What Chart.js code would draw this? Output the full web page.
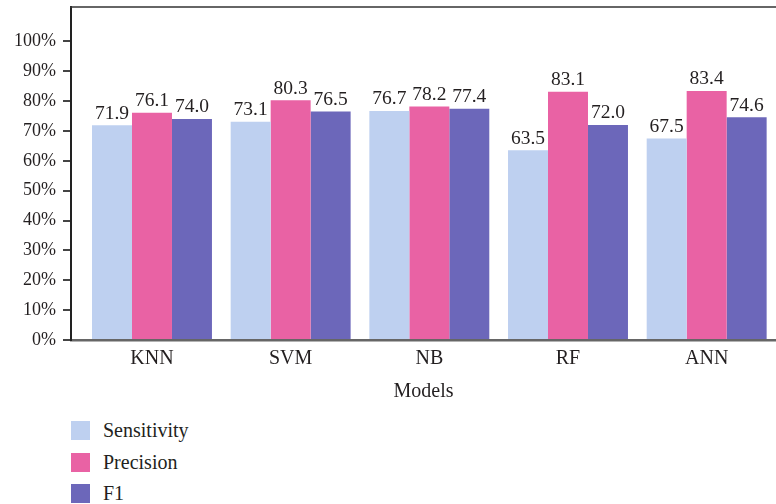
<!DOCTYPE html>
<html>
<head>
<meta charset="utf-8">
<script src="https://cdn.jsdelivr.net/npm/chart.js@4/dist/chart.umd.min.js"></script>
<style>
  html, body { margin: 0; padding: 0; background: #fff; }
  #wrap { position: relative; width: 776px; height: 504px; overflow: hidden; }
  #chart { position: absolute; left: 0; top: 0; }
  #legend { position: absolute; left: 71px; top: 421px; font-family: "Liberation Serif", serif; font-size: 20px; color: #231f20; }
  .item { display: flex; align-items: center; height: 19px; margin-bottom: 12.7px; }
  .box { width: 19px; height: 19px; margin-right: 13px; flex: none; }
</style>
</head>
<body>
<div id="wrap">
  <canvas id="chart" width="776" height="409"></canvas>
  <div id="legend"></div>
</div>
<script>
// Model comparison: sensitivity, precision and F1 (%)
const models = ["KNN", "SVM", "NB", "RF", "ANN"];
const sensitivity = [71.9, 73.1, 76.7, 63.5, 67.5];
const precision = [76.1, 80.3, 78.2, 83.1, 83.4];
const f1 = [74.0, 76.5, 77.4, 72.0, 74.6];
const seriesNames = ["Sensitivity", "Precision", "F1"];
const seriesColors = ["#BED0F0", "#E962A4", "#6C67BA"];
const yTicks = [0, 10, 20, 30, 40, 50, 60, 70, 80, 90, 100];

const serif = "'Liberation Serif', 'Times New Roman', serif";
const textColor = "#231f20";

const toPoints = arr => arr.map((v, i) => ({ x: i, y: v }));
const seriesValues = [sensitivity, precision, f1];

// Value labels above each bar
const valueLabels = {
  id: "valueLabels",
  afterDatasetsDraw(chart) {
    const ctx = chart.ctx;
    ctx.save();
    ctx.font = "19.5px " + serif;
    ctx.fillStyle = textColor;
    ctx.textAlign = "center";
    ctx.textBaseline = "bottom";
    chart.data.datasets.forEach((ds, di) => {
      chart.getDatasetMeta(di).data.forEach((el, i) => {
        ctx.fillText(ds.data[i].y.toFixed(1), el.x, el.y - 2);
      });
    });
    ctx.restore();
  }
};

// Top edge of the plot frame
const topFrame = {
  id: "topFrame",
  afterDraw(chart) {
    const a = chart.chartArea, ctx = chart.ctx;
    ctx.save();
    ctx.strokeStyle = "#333";
    ctx.lineWidth = 1.5;
    ctx.beginPath();
    ctx.moveTo(a.left - 1, a.top);
    ctx.lineTo(a.right, a.top);
    ctx.stroke();
    ctx.restore();
  }
};

new Chart(document.getElementById("chart"), {
  type: "bar",
  data: {
    datasets: seriesNames.map((name, k) => ({
      label: name,
      data: toPoints(seriesValues[k]),
      backgroundColor: seriesColors[k],
      borderWidth: 0,
      categoryPercentage: 0.865,
      barPercentage: 1.0
    }))
  },
  options: {
    responsive: false,
    animation: false,
    layout: { padding: { top: 7, right: 0, bottom: 5, left: 0 } },
    plugins: { legend: { display: false }, tooltip: { enabled: false } },
    scales: {
      x: {
        type: "linear",
        min: -0.584,
        max: 4.5,
        offset: false,
        afterBuildTicks(scale) { scale.ticks = models.map((_, i) => ({ value: i })); },
        ticks: {
          callback: v => models[v],
          font: { family: serif, size: 20 },
          color: textColor,
          padding: 7,
          autoSkip: false,
          maxRotation: 0
        },
        grid: { display: false, drawTicks: false },
        border: { display: true, color: "#666", width: 2.5 },
        title: {
          display: true,
          text: "Models",
          font: { family: serif, size: 20 },
          color: textColor,
          padding: { top: 2, bottom: 0 }
        }
      },
      y: {
        min: 0,
        max: 111.5,
        afterBuildTicks(scale) { scale.ticks = yTicks.map(v => ({ value: v })); },
        afterFit(scale) { scale.width = 71; scale.paddingTop = 0; },
        ticks: {
          callback: v => v + "%",
          font: { family: serif, size: 18 },
          color: textColor,
          padding: 7
        },
        grid: { display: true, drawOnChartArea: false, drawTicks: true, tickLength: 8, color: "#444", lineWidth: 2 },
        border: { display: true, color: "#222", width: 2 }
      }
    }
  },
  plugins: [valueLabels, topFrame]
});

// Legend list under the chart
const legend = document.getElementById("legend");
seriesNames.forEach((name, k) => {
  const item = document.createElement("div");
  item.className = "item";
  const box = document.createElement("span");
  box.className = "box";
  box.style.background = seriesColors[k];
  const label = document.createElement("span");
  label.textContent = name;
  item.appendChild(box);
  item.appendChild(label);
  legend.appendChild(item);
});
</script>
</body>
</html>
